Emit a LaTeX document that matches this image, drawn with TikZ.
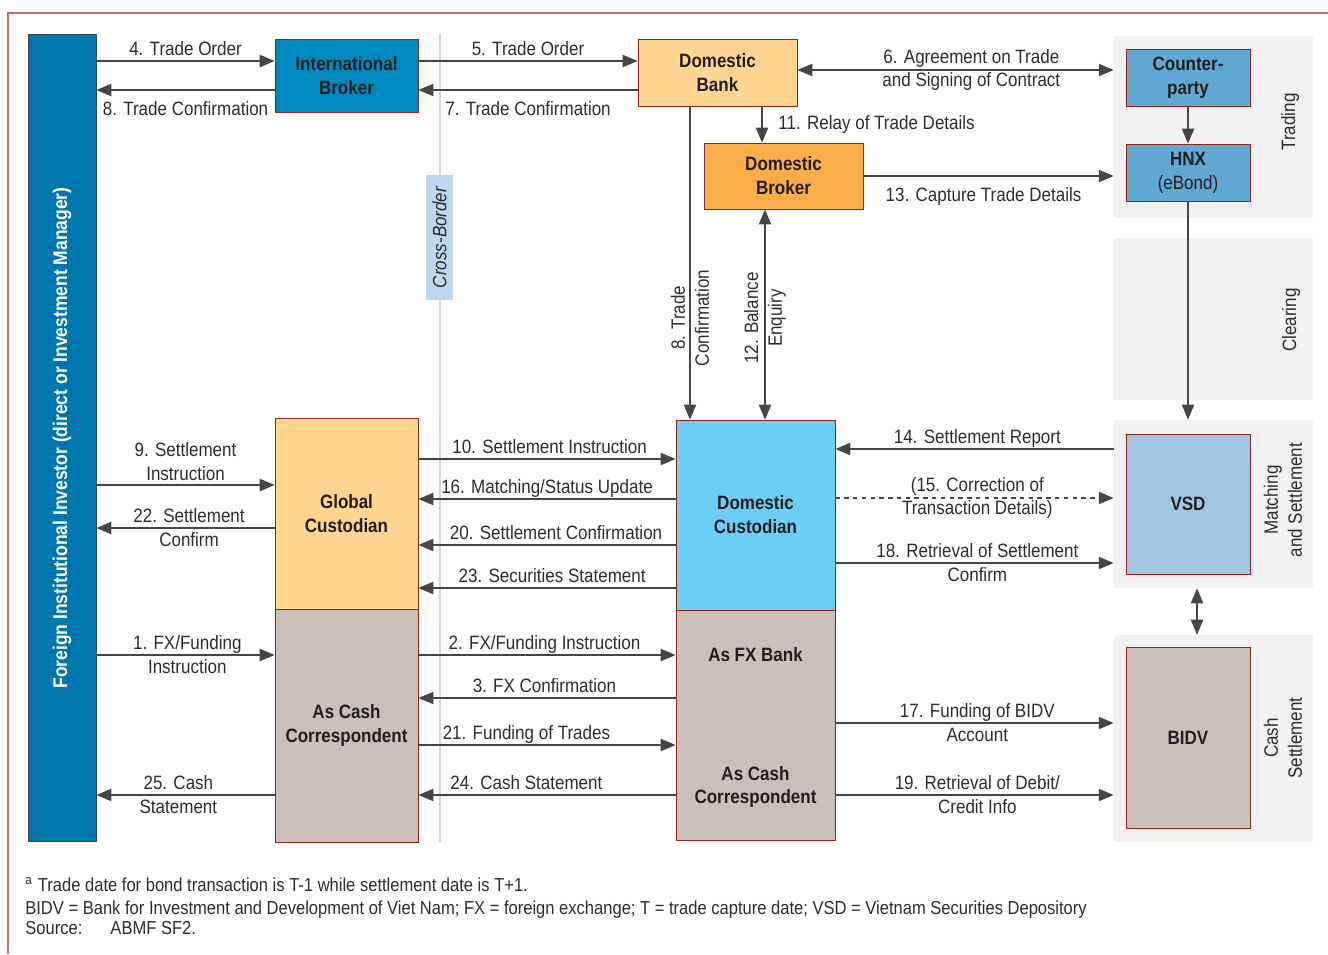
\documentclass[tikz,border=0pt]{standalone}
\usepackage{fontspec}
\setmainfont{Liberation Sans}[FakeStretch=0.88]
\usepackage{xcolor}
\usepackage{tikz}
\usetikzlibrary{arrows.meta, positioning, calc}
\definecolor{investorblue}{RGB}{0, 118, 174}
\definecolor{brokerblue}{RGB}{0, 137, 190}
\definecolor{lightorange}{RGB}{255, 213, 145}
\definecolor{darkorange}{RGB}{251, 173, 74}
\definecolor{skyblue}{RGB}{108, 206, 245}
\definecolor{steelblue}{RGB}{95, 168, 210}
\definecolor{paleblue}{RGB}{160, 198, 228}
\definecolor{taupe}{RGB}{201, 192, 186}
\definecolor{panelgray}{RGB}{242, 242, 242}
\definecolor{borderred}{RGB}{150, 35, 28}
\definecolor{invborder}{RGB}{60, 70, 80}
\definecolor{linegray}{RGB}{70, 70, 70}
\definecolor{labeltext}{RGB}{45, 45, 45}
\definecolor{boxtext}{RGB}{35, 31, 32}
\definecolor{framered}{RGB}{200, 110, 105}
\definecolor{crossblue}{RGB}{189, 215, 238}
\definecolor{crossgray}{RGB}{212, 212, 212}

\begin{document}
\begin{tikzpicture}[
    x=0.02cm, y=-0.02cm,
    box/.style={rectangle, draw=borderred, line width=0.5pt, inner sep=0pt, align=center, text=boxtext, font=\fontsize{11}{13.6}\selectfont\bfseries},
    boxlbl/.style={inner sep=0pt, align=center, text=boxtext, font=\fontsize{11}{13.6}\selectfont\bfseries},
    panel/.style={rectangle, fill=panelgray, inner sep=0pt, minimum width=3.98cm},
    lbl/.style={inner sep=0pt, align=center, text=labeltext, font=\fontsize{11}{13.6}\selectfont},
    lblup/.style={lbl, anchor=base, yshift=3.2pt},
    lbldown/.style={lbl, anchor=base, yshift=-14.3pt},
    lblmid/.style={lbl, anchor=center},
    lblup2/.style={lbl, anchor=south, yshift=2.2pt},
    note/.style={inner sep=0pt, anchor=base west, text=labeltext, font=\fontsize{10.7}{12}\selectfont},
    arrow/.style={-{Triangle[length=8.5pt, width=7pt]}, line width=0.7pt, draw=linegray},
    twoway/.style={{Triangle[length=8.5pt, width=7pt]}-{Triangle[length=8.5pt, width=7pt]}, line width=0.7pt, draw=linegray}
]
\useasboundingbox (0,0) rectangle (1328,954);

% Frame
\draw[framered, line width=0.8pt] (8,954) -- (8,13) -- (1328,13);

% Stage panels
\node[panel, minimum height=3.64cm] (tradingp) at (1213.5,127) {};
\node[panel, minimum height=3.24cm] (clearingp) at (1213.5,319) {};
\node[panel, minimum height=3.36cm] (matchp) at (1213.5,504) {};
\node[panel, minimum height=4.14cm] (cashp) at (1213.5,738.5) {};
\node[lbl, rotate=90] (tradingl) at (1290,122) {Trading};
\node[lbl, rotate=90] (clearingl) at (1291,320) {Clearing};
\node[lbl, rotate=90] (matchl) at (1283,500) {Matching\\and Settlement};
\node[lbl, rotate=90] (cashl) at (1283,738) {Cash\\Settlement};

% Cross-border divider
\draw[crossgray, line width=1.2pt] (440,34) -- (440,842);
\node[rectangle, fill=crossblue, rotate=90, minimum width=2.5cm, minimum height=0.54cm, inner sep=0pt, text=labeltext, font=\fontsize{11}{12}\selectfont\itshape] (cross) at (439.5,237.5) {Cross-Border};

% Investor
\node[box, draw=invborder, fill=investorblue, minimum width=1.36cm, minimum height=16.16cm] (inv) at (62,438) {};
\node[boxlbl, text=white, rotate=90, font=\fontsize{11.3}{13.6}\selectfont\bfseries] (invlbl) at (inv.center) {Foreign Institutional Investor (direct or Investment Manager)};

% Brokers and banks
\node[box, fill=brokerblue, minimum width=2.86cm, minimum height=1.46cm] (ib) at (346.5,75.5) {International\\Broker};
\node[box, fill=lightorange, minimum width=3.18cm, minimum height=1.34cm] (dbank) at (717.5,72.5) {Domestic\\Bank};
\node[box, fill=darkorange, minimum width=3.18cm, minimum height=1.32cm] (dbroker) at (783.5,176) {Domestic\\Broker};
\node[box, fill=steelblue, minimum width=2.48cm, minimum height=1.14cm] (cpty) at (1188,77.5) {Counter-\\party};
\node[box, fill=steelblue, minimum width=2.48cm, minimum height=1.14cm] (hnx) at (1188,172.5) {HNX\\{\mdseries(eBond)}};
\node[box, fill=paleblue, minimum width=2.48cm, minimum height=2.8cm] (vsd) at (1188,504) {VSD};
\node[box, fill=taupe, minimum width=2.48cm, minimum height=3.62cm] (bidv) at (1188,737.5) {BIDV};

% Custodians
\node[box, fill=lightorange, minimum width=2.86cm, minimum height=3.82cm] (gcust) at (346.5,513.5) {Global\\Custodian};
\node[box, fill=taupe, minimum width=2.86cm, minimum height=4.66cm] (gcash) at (346.5,725.5) {As Cash\\Correspondent};
\node[box, fill=skyblue, minimum width=3.18cm, minimum height=3.8cm] (dcust) at (755.5,515) {Domestic\\Custodian};
\node[box, fill=taupe, minimum width=3.18cm, minimum height=4.6cm] (dcash) at (755.5,725) {};
\node[boxlbl] (fxbank) at (755.5,655) {As FX Bank};
\node[boxlbl] (dcorr) at (755.5,787) {As Cash\\Correspondent};

% Trading arrows
\draw[arrow] (inv.east |- 0,61) -- node[lblup] {4. Trade Order} (ib.west |- 0,61);
\draw[arrow] (ib.west |- 0,90) -- node[lbldown] {8. Trade Confirmation} (inv.east |- 0,90);
\draw[arrow] (ib.east |- 0,61) -- node[lblup] {5. Trade Order} (dbank.west |- 0,61);
\draw[arrow] (dbank.west |- 0,90) -- node[lbldown] {7. Trade Confirmation} (ib.east |- 0,90);
\draw[twoway] (dbank.east |- 0,70) -- node[lblmid, pos=0.55] {6. Agreement on Trade\\and Signing of Contract} (tradingp.west |- 0,70);
\draw[arrow] (762,0 |- dbank.south) -- node[lbl, anchor=west, xshift=9pt] {11. Relay of Trade Details} (762,0 |- dbroker.north);
\draw[arrow] (dbroker.east) -- node[lbldown, pos=0.48] {13. Capture Trade Details} (tradingp.west |- dbroker.east);
\draw[arrow] (cpty.south) -- (hnx.north);
\draw[arrow] (hnx.south) -- (hnx.south |- matchp.north);
\draw[arrow] (690,0 |- dbank.south) -- node[lblmid, rotate=90, pos=0.675] {8. Trade\\Confirmation} (690,0 |- dcust.north);
\draw[twoway] (765,0 |- dbroker.south) -- node[lblmid, rotate=90, pos=0.517] {12. Balance\\Enquiry} (765,0 |- dcust.north);

% Settlement arrows (domestic)
\draw[arrow] (matchp.west |- 0,449) -- node[lblup, pos=0.49] {14. Settlement Report} (dcust.east |- 0,449);
\draw[arrow, dash pattern=on 2.5pt off 2.5pt] (dcust.east |- 0,498) -- node[lblmid, pos=0.51] {(15. Correction of\\Transaction Details)} (matchp.west |- 0,498);
\draw[arrow] (dcust.east |- 0,563) -- node[lblmid, pos=0.51] {18. Retrieval of Settlement\\Confirm} (matchp.west |- 0,563);
\draw[twoway] (1197,0 |- matchp.south) -- (1197,0 |- cashp.north);
\draw[arrow] (dcash.east |- 0,723) -- node[lblmid, pos=0.51] {17. Funding of BIDV\\Account} (cashp.west |- 0,723);
\draw[arrow] (dcash.east |- 0,795) -- node[lblmid, pos=0.51] {19. Retrieval of Debit/\\Credit Info} (cashp.west |- 0,795);

% Investor side arrows
\draw[arrow] (inv.east |- 0,485) -- node[lblup2] {9. Settlement\\Instruction} (gcust.west |- 0,485);
\draw[arrow] (gcust.west |- 0,528) -- node[lblmid, pos=0.48] {22. Settlement\\Confirm} (inv.east |- 0,528);
\draw[arrow] (inv.east |- 0,655) -- node[lblmid, pos=0.51] {1. FX/Funding\\Instruction} (gcash.west |- 0,655);
\draw[arrow] (gcash.west |- 0,795) -- node[lblmid, pos=0.54] {25. Cash\\Statement} (inv.east |- 0,795);

% Custodian to custodian arrows
\draw[arrow] (gcust.east |- 0,459) -- node[lblup, pos=0.51] {10. Settlement Instruction} (dcust.west |- 0,459);
\draw[arrow] (dcust.west |- 0,499) -- node[lblup, pos=0.50] {16. Matching/Status Update} (gcust.east |- 0,499);
\draw[arrow] (dcust.west |- 0,545) -- node[lblup, pos=0.465] {20. Settlement Confirmation} (gcust.east |- 0,545);
\draw[arrow] (dcust.west |- 0,588) -- node[lblup, pos=0.48] {23. Securities Statement} (gcust.east |- 0,588);
\draw[arrow] (gcash.east |- 0,655) -- node[lblup, pos=0.49] {2. FX/Funding Instruction} (dcash.west |- 0,655);
\draw[arrow] (dcash.west |- 0,698) -- node[lblup, pos=0.51] {3. FX Confirmation} (gcash.east |- 0,698);
\draw[arrow] (gcash.east |- 0,745) -- node[lblup, pos=0.42] {21. Funding of Trades} (dcash.west |- 0,745);
\draw[arrow] (dcash.west |- 0,795) -- node[lblup, pos=0.58] {24. Cash Statement} (gcash.east |- 0,795);

% Notes
\node[note] (note1) at (25,891) {\textsuperscript{a}\hspace{3pt}Trade date for bond transaction is T-1 while settlement date is T+1.};
\node[note] (note2) at (25,914) {BIDV = Bank for Investment and Development of Viet Nam; FX = foreign exchange; T = trade capture date; VSD = Vietnam Securities Depository};
\node[note] (note3) at (25,934) {Source:\hspace{16pt}ABMF SF2.};
\end{tikzpicture}
\end{document}
